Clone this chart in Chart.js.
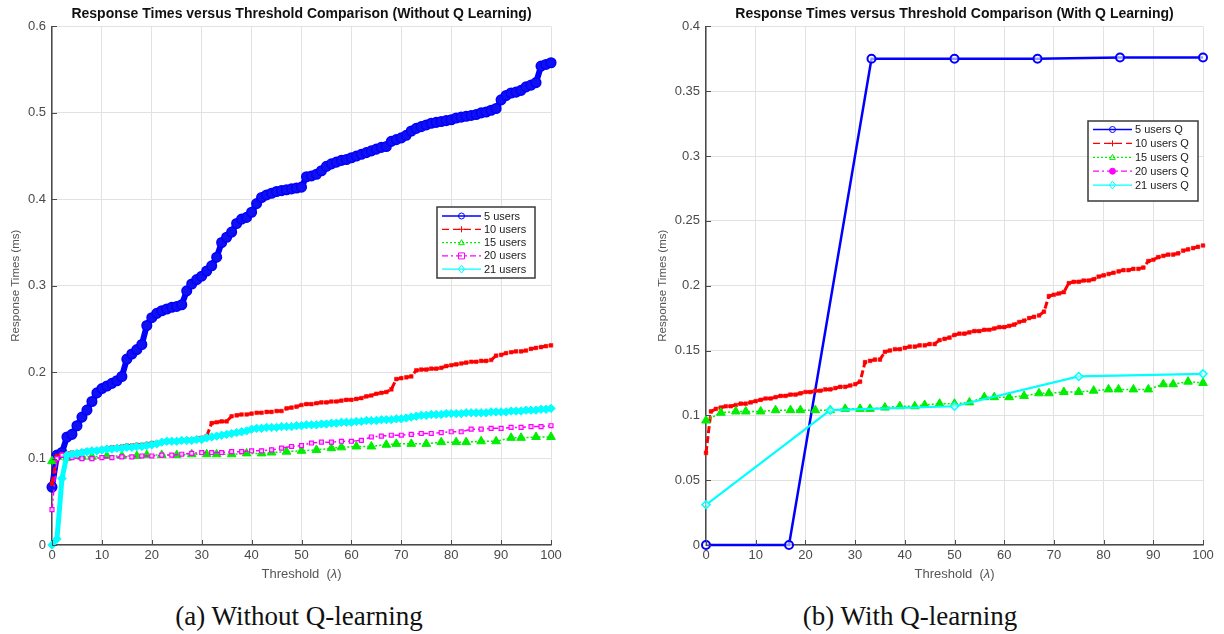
<!DOCTYPE html>
<html><head><meta charset="utf-8">
<script src="https://cdn.jsdelivr.net/npm/chart.js@4.4.0/dist/chart.umd.min.js"></script>
<style>
html,body{margin:0;padding:0;background:#fff;}
body{width:1224px;height:634px;position:relative;overflow:hidden;}
.wrap{position:absolute;top:0;width:612px;height:592px;}
.cap{position:absolute;top:601px;font-family:'Liberation Serif','DejaVu Serif',serif;font-size:27px;color:#111;white-space:nowrap;transform:translateX(-50%);line-height:30px;}
</style></head>
<body>
<div class="wrap" style="left:0"><canvas id="c1" width="612" height="592"></canvas></div>
<div class="wrap" style="left:612px"><canvas id="c2" width="612" height="592"></canvas></div>
<div class="cap" style="left:299px">(a) Without Q-learning</div>
<div class="cap" style="left:910px">(b) With Q-learning</div>
<script>
// ---------- data ----------
const xTicks = [0,10,20,30,40,50,60,70,80,90,100];
const yTicksLeft = [0,0.1,0.2,0.3,0.4,0.5,0.6];
const yTicksRight = [0,0.05,0.1,0.15,0.2,0.25,0.3,0.35,0.4];
const thresholdsDense = Array.from({length:101},(_,i)=>i);
const thresholdsSparse = [0,3,6,8,11,14,17,19,22,25,28,31,33,36,39,42,44,47,50,53,56,58,61,64,67,69,72,75,78,81,83,86,89,92,94,97,100];
const thresholdsMag = [0,1,2,4,6,8,10,12,14,16,18,20,22,24,26,28,30,32,34,36,38,40,42,44,46,48,50,52,54,56,58,60,62,64,66,68,70,72,74,76,78,80,82,84,86,88,90,92,94,96,98,100];

// Without Q learning
const rt5 = [0.067,0.104,0.107,0.125,0.128,0.138,0.148,0.156,0.166,0.176,
 0.181,0.184,0.187,0.190,0.195,0.215,0.221,0.226,0.232,0.254,
 0.263,0.268,0.271,0.273,0.275,0.276,0.278,0.294,0.302,0.307,
 0.311,0.317,0.323,0.333,0.350,0.356,0.362,0.372,0.377,0.379,
 0.385,0.395,0.402,0.405,0.407,0.409,0.410,0.411,0.412,0.413,
 0.414,0.426,0.427,0.429,0.433,0.438,0.441,0.443,0.445,0.446,
 0.448,0.450,0.452,0.454,0.456,0.458,0.460,0.461,0.467,0.469,
 0.471,0.474,0.479,0.482,0.484,0.486,0.488,0.489,0.490,0.491,
 0.492,0.494,0.495,0.496,0.497,0.498,0.500,0.501,0.503,0.505,
 0.515,0.520,0.523,0.524,0.526,0.530,0.532,0.535,0.554,0.556,0.558];
const rt10 = [0.071,0.103,0.105,0.106,0.107,0.107,0.108,0.109,0.109,0.110,
 0.111,0.112,0.113,0.113,0.114,0.115,0.115,0.116,0.116,0.117,
 0.118,0.118,0.119,0.119,0.120,0.120,0.121,0.122,0.122,0.123,
 0.124,0.126,0.141,0.142,0.143,0.143,0.149,0.150,0.151,0.151,
 0.152,0.153,0.153,0.154,0.154,0.155,0.155,0.158,0.159,0.160,
 0.162,0.163,0.163,0.164,0.165,0.165,0.166,0.166,0.167,0.168,
 0.168,0.169,0.170,0.172,0.173,0.175,0.176,0.177,0.180,0.192,
 0.193,0.194,0.195,0.202,0.203,0.203,0.204,0.204,0.205,0.207,
 0.208,0.209,0.210,0.211,0.212,0.212,0.213,0.213,0.214,0.219,
 0.220,0.222,0.223,0.224,0.224,0.225,0.227,0.228,0.229,0.230,0.231];
const rt15 = [0.097,0.101,0.102,0.102,0.103,0.103,0.103,0.104,0.104,0.104,0.105,0.105,0.105,0.105,0.106,0.106,0.107,0.108,0.109,0.110,0.112,0.113,0.114,0.114,0.116,0.117,0.117,0.117,0.119,0.119,0.119,0.120,0.120,0.124,0.124,0.125,0.125];
const rt20 = [0.041,0.100,0.104,0.101,0.100,0.100,0.101,0.101,0.102,0.102,0.103,0.103,0.104,0.104,0.105,0.106,0.107,0.107,0.107,0.108,0.108,0.109,0.109,0.110,0.112,0.114,0.115,0.118,0.119,0.119,0.120,0.120,0.121,0.125,0.126,0.127,0.127,0.128,0.129,0.129,0.130,0.131,0.131,0.134,0.134,0.135,0.135,0.136,0.136,0.137,0.137,0.138];
const rt21 = [0.000,0.007,0.077,0.104,0.105,0.106,0.107,0.108,0.109,0.109,
 0.110,0.111,0.111,0.112,0.112,0.113,0.113,0.114,0.114,0.115,
 0.116,0.117,0.119,0.120,0.120,0.120,0.121,0.121,0.121,0.122,
 0.122,0.124,0.125,0.126,0.127,0.128,0.129,0.130,0.131,0.132,
 0.134,0.135,0.135,0.136,0.136,0.136,0.137,0.137,0.137,0.138,
 0.138,0.139,0.139,0.139,0.140,0.140,0.141,0.141,0.142,0.142,
 0.142,0.143,0.143,0.144,0.144,0.144,0.145,0.145,0.145,0.146,
 0.146,0.147,0.148,0.149,0.150,0.150,0.151,0.151,0.151,0.152,
 0.152,0.152,0.152,0.153,0.153,0.153,0.153,0.153,0.154,0.154,
 0.154,0.154,0.155,0.155,0.155,0.156,0.156,0.156,0.157,0.157,0.158];

// With Q learning
const thresholdsQ5 = [0,16.7,33.3,50,66.7,83.3,100];
const rt5Q = [0,0,0.375,0.375,0.375,0.376,0.376];
const rt10Q = rt10.slice();
const rt15Q = [0.096,0.102,0.103,0.103,0.103,0.104,0.104,0.104,0.104,0.104,0.105,0.105,0.105,0.106,0.107,0.107,0.108,0.109,0.109,0.110,0.114,0.114,0.114,0.115,0.117,0.117,0.118,0.118,0.119,0.120,0.120,0.120,0.120,0.124,0.124,0.126,0.125];
const thresholdsQ20 = [];
const rt20Q = [];
const thresholdsQ21 = [0,25,50,75,100];
const rt21Q = [0.031,0.104,0.107,0.130,0.132];

const labelsLeft = ['5 users','10 users','15 users','20 users','21 users'];
const labelsRight = ['5 users Q','10 users Q','15 users Q','20 users Q','21 users Q'];

// ---------- helpers ----------
const pts = (xs, ys) => ys.map((v,i)=>({x:xs[i], y:v}));
const SANS = "'Liberation Sans', Arial, sans-serif";

function drawMark(ctx, style, x, y, r, fill, stroke, bw){
  ctx.save();
  ctx.setLineDash([]);
  ctx.fillStyle = fill; ctx.strokeStyle = stroke; ctx.lineWidth = bw;
  ctx.beginPath();
  if (style==='circle'){ ctx.arc(x,y,r,0,Math.PI*2); }
  else if (style==='rect'){ ctx.rect(x-r,y-r,2*r,2*r); }
  else if (style==='rectRot'){ ctx.moveTo(x,y-r*1.3); ctx.lineTo(x+r,y); ctx.lineTo(x,y+r*1.3); ctx.lineTo(x-r,y); ctx.closePath(); }
  else if (style==='triangle'){ ctx.moveTo(x,y-r); ctx.lineTo(x+r*0.95,y+r*0.7); ctx.lineTo(x-r*0.95,y+r*0.7); ctx.closePath(); }
  else if (style==='star'){ ctx.moveTo(x-r,y); ctx.lineTo(x+r,y); ctx.moveTo(x,y-r); ctx.lineTo(x,y+r); }
  if (style!=='star') ctx.fill();
  ctx.stroke();
  ctx.restore();
}

// inward tick marks and x-axis title with italic lambda
const axisExtras = {
  id:'axisExtras',
  afterDraw(chart){
    const ctx = chart.ctx, a = chart.chartArea;
    const xs = chart.scales.x, ys = chart.scales.y;
    ctx.save();
    ctx.strokeStyle = '#4a4a4a'; ctx.lineWidth = 1;
    xs.ticks.forEach(t=>{ const px = Math.round(xs.getPixelForValue(t.value))+0.5; ctx.beginPath(); ctx.moveTo(px,a.bottom); ctx.lineTo(px,a.bottom-5); ctx.stroke(); });
    ys.ticks.forEach(t=>{ const py = Math.round(ys.getPixelForValue(t.value))+0.5; ctx.beginPath(); ctx.moveTo(a.left,py); ctx.lineTo(a.left+5,py); ctx.stroke(); });
    // x title
    const cx = (a.left + a.right)/2, cy = a.bottom + 29;
    const f1 = "13px " + SANS, f2 = "italic 13px " + SANS;
    ctx.font = f1; const w1 = ctx.measureText('Threshold  (').width, w3 = ctx.measureText(')').width;
    ctx.font = f2; const w2 = ctx.measureText('λ').width;
    let x = cx - (w1+w2+w3)/2;
    ctx.fillStyle = '#555'; ctx.textBaseline = 'middle'; ctx.textAlign = 'left';
    ctx.font = f1; ctx.fillText('Threshold  (', x, cy); x += w1;
    ctx.font = f2; ctx.fillText('λ', x, cy); x += w2;
    ctx.font = f1; ctx.fillText(')', x, cy);
    ctx.restore();
  }
};

const boxLegend = {
  id:'boxLegend',
  afterDatasetsDraw(chart, args, o){
    if (!o || !o.show) return;
    const ctx = chart.ctx;
    ctx.save();
    ctx.fillStyle='#fff'; ctx.fillRect(o.x,o.y,o.w,o.h);
    ctx.strokeStyle='#3a3a3a'; ctx.lineWidth=1.5; ctx.setLineDash([]);
    ctx.strokeRect(o.x,o.y,o.w,o.h);
    ctx.font = "11px " + SANS; ctx.textBaseline='middle'; ctx.textAlign='left';
    chart.data.datasets.forEach((ds,i)=>{
      const cy = o.y + o.first + i*o.row;
      const x0 = o.x + 5, x1 = x0 + o.len;
      ctx.strokeStyle = ds.borderColor; ctx.lineWidth = 1.3;
      ctx.setLineDash(ds.legendDash || ds.borderDash || []);
      ctx.beginPath(); ctx.moveTo(x0,cy); ctx.lineTo(x1,cy); ctx.stroke();
      drawMark(ctx, ds.legendMark || ds.pointStyle, (x0+x1)/2, cy, 3, ds.legendFill || 'rgba(0,0,0,0)', ds.borderColor, 1);
      ctx.setLineDash([]);
      ctx.fillStyle='#1a1a1a';
      ctx.fillText(ds.label, x1+3, cy+0.5);
    });
    ctx.restore();
  }
};

function makeScales(yTicks, yMax, yWidth, yTitlePad){
  return {
    x:{type:'linear', min:0, max:100,
      afterBuildTicks:s=>{ s.ticks = xTicks.map(v=>({value:v})); },
      afterFit:s=>{ s.height = 36; },
      grid:{color:'#e2e2e2', lineWidth:1, drawTicks:false},
      border:{display:true, color:'#4a4a4a', width:1.5},
      ticks:{color:'#4a4a4a', font:{family:SANS, size:13}, padding:3, maxRotation:0, autoSkip:false,
        callback:v=>String(v)},
      title:{display:false}
    },
    y:{type:'linear', min:0, max:yMax,
      afterBuildTicks:s=>{ s.ticks = yTicks.map(v=>({value:v})); },
      afterFit:s=>{ s.width = yWidth; },
      grid:{color:'#e2e2e2', lineWidth:1, drawTicks:false},
      border:{display:true, color:'#4a4a4a', width:1.5},
      ticks:{color:'#4a4a4a', font:{family:SANS, size:13}, padding:6, autoSkip:false,
        callback:v=>String(+Number(v).toFixed(2))},
      title:{display:true, text:'Response Times (ms)', color:'#555', font:{family:SANS, size:11.5}, padding:{top:yTitlePad,bottom:0}}
    }
  };
}

function baseOptions(title, yTicks, yMax, yWidth, yTitlePad, padRight, legend){
  return {
    responsive:false, animation:false, events:[],
    layout:{padding:{left:0, right:padRight, top:0, bottom:11}},
    scales:makeScales(yTicks, yMax, yWidth, yTitlePad),
    plugins:{
      legend:{display:false}, tooltip:{enabled:false},
      title:{display:true, text:title, fullSize:false, color:'#111', font:{family:SANS, size:14, weight:'bold'}, padding:{top:5.6,bottom:4}},
      boxLegend:legend
    },
    elements:{line:{tension:0}}
  };
}

const blue='#0000ff', red='#ff0000', green='#00ee00', magenta='#ff00ff', cyan='#00ffff';

// ---------- left chart ----------
new Chart(document.getElementById('c1'), {
  type:'line',
  data:{datasets:[
    {label:labelsLeft[0], data:pts(thresholdsDense, rt5), borderColor:blue, borderWidth:6, pointStyle:'circle', pointRadius:4.8, pointBorderWidth:1.5, pointBorderColor:blue, pointBackgroundColor:'#1010f0', legendDash:[], order:5, clip:10},
    {label:labelsLeft[1], data:pts(thresholdsDense, rt10), borderColor:red, borderWidth:3, borderDash:[7,3], legendDash:[7,4], pointStyle:'rect', pointRadius:2.6, pointBorderWidth:0.5, pointBorderColor:red, pointBackgroundColor:red, legendMark:'star', order:4, clip:10},
    {label:labelsLeft[2], data:pts(thresholdsSparse, rt15), borderColor:green, borderWidth:1.5, borderDash:[2,2], pointStyle:'triangle', pointRadius:5, pointBorderWidth:1, pointBorderColor:green, pointBackgroundColor:green, legendFill:'rgba(0,0,0,0)', order:3, clip:10},
    {label:labelsLeft[3], data:pts(thresholdsMag, rt20), borderColor:magenta, borderWidth:1.5, borderDash:[6,3,2,3], pointStyle:'rect', pointRadius:2.8, pointBorderWidth:1.2, pointBorderColor:magenta, pointBackgroundColor:'#ffd0ff', order:2, clip:10},
    {label:labelsLeft[4], data:pts(thresholdsDense, rt21), borderColor:cyan, borderWidth:5, legendDash:[], pointStyle:'rectRot', pointRadius:4.2, pointBorderWidth:1, pointBorderColor:cyan, pointBackgroundColor:cyan, legendFill:'rgba(0,0,0,0)', order:1, clip:10}
  ]},
  options:baseOptions('Response Times versus Threshold Comparison (Without Q Learning)', yTicksLeft, 0.6, 52, 9.4, 61,
    {show:true, x:437, y:207, w:98, h:71, first:9, row:13.3, len:39}),
  plugins:[boxLegend, axisExtras]
});

// ---------- right chart ----------
new Chart(document.getElementById('c2'), {
  type:'line',
  data:{datasets:[
    {label:labelsRight[0], data:pts(thresholdsQ5, rt5Q), borderColor:blue, borderWidth:2.5, pointStyle:'circle', pointRadius:4, pointBorderWidth:2, pointBorderColor:blue, pointBackgroundColor:'rgba(255,255,255,0.6)', order:5, clip:10},
    {label:labelsRight[1], data:pts(thresholdsDense, rt10Q), borderColor:red, borderWidth:3, borderDash:[7,3], legendDash:[7,4], pointStyle:'rect', pointRadius:2.6, pointBorderWidth:0.5, pointBorderColor:red, pointBackgroundColor:red, legendMark:'star', order:4, clip:10},
    {label:labelsRight[2], data:pts(thresholdsSparse, rt15Q), borderColor:green, borderWidth:1.5, borderDash:[2,2], pointStyle:'triangle', pointRadius:5, pointBorderWidth:1, pointBorderColor:green, pointBackgroundColor:green, legendFill:'rgba(0,0,0,0)', order:3, clip:10},
    {label:labelsRight[3], data:pts(thresholdsQ20, rt20Q), borderColor:magenta, borderWidth:1.5, borderDash:[6,3,2,3], pointStyle:'circle', pointRadius:3, pointBorderColor:magenta, pointBackgroundColor:magenta, legendFill:magenta, order:2, clip:10},
    {label:labelsRight[4], data:pts(thresholdsQ21, rt21Q), borderColor:cyan, borderWidth:2.2, pointStyle:'rectRot', pointRadius:4, pointBorderWidth:1.5, pointBorderColor:cyan, pointBackgroundColor:'rgba(255,255,255,0.5)', order:1, clip:10}
  ]},
  options:baseOptions('Response Times versus Threshold Comparison (With Q Learning)', yTicksRight, 0.4, 94, 44.4, 21,
    {show:true, x:476, y:121, w:110, h:80, first:8.5, row:13.9, len:39}),
  plugins:[boxLegend, axisExtras]
});
</script>
</body></html>
